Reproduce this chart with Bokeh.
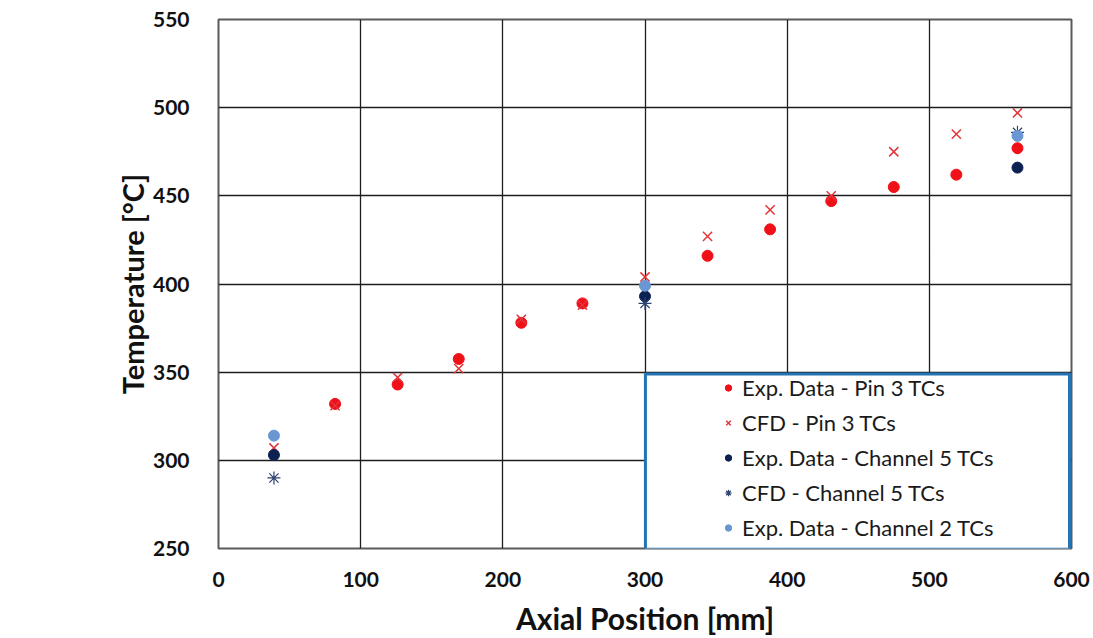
from bokeh.plotting import figure
from bokeh.models import Range1d, FixedTicker, Legend, LegendItem, BoxAnnotation
from bokeh.embed import file_html
from bokeh.resources import INLINE

# ---- data ----
exp_pin3_x = [82, 126, 169, 213, 256, 344, 388, 431, 475, 519, 562]
exp_pin3_y = [332, 343, 357.5, 378, 389, 416, 431, 447, 455, 462, 477]

cfd_pin3_x = [39, 82, 126, 169, 213, 256, 300, 344, 388, 431, 475, 519, 562]
cfd_pin3_y = [307, 331, 347, 352, 380, 388, 404, 427, 442, 450, 475, 485, 497]

exp_ch5_x = [39, 300, 562]
exp_ch5_y = [303, 393, 466]

cfd_ch5_x = [39, 300, 562]
cfd_ch5_y = [290, 389, 486]

exp_ch2_x = [39, 300, 562]
exp_ch2_y = [314, 399, 484]

x_ticks = [0, 100, 200, 300, 400, 500, 600]
y_ticks = [250, 300, 350, 400, 450, 500, 550]

labels = ["Exp. Data - Pin 3 TCs", "CFD - Pin 3 TCs", "Exp. Data - Channel 5 TCs",
          "CFD - Channel 5 TCs", "Exp. Data - Channel 2 TCs"]

# legend frame extent (data units)
legend_box = dict(left=300.3, right=598.6, bottom=249.6, top=349.0)

FONT = "Lato"

p = figure(width=1093, height=638, output_backend="svg", toolbar_location=None,
           x_range=Range1d(0, 600), y_range=Range1d(250, 550),
           min_border_left=218, min_border_right=22, min_border_top=19, min_border_bottom=90)

p.background_fill_color = "white"
p.border_fill_color = "white"
p.outline_line_color = "#5a5a5a"
p.outline_line_width = 2

for ax in (p.xaxis[0], p.yaxis[0]):
    ax.axis_line_color = None
    ax.major_tick_line_color = None
    ax.minor_tick_line_color = None
    ax.major_label_text_font = FONT
    ax.major_label_text_font_style = "bold"
    ax.major_label_text_font_size = "21px"
    ax.major_label_text_color = "#111111"
    ax.axis_label_text_font = FONT
    ax.axis_label_text_font_style = "bold"
    ax.axis_label_text_color = "#111111"

p.xaxis.axis_label_text_font_size = "30px"
p.yaxis.axis_label_text_font_size = "29px"
p.xaxis.ticker = FixedTicker(ticks=x_ticks)
p.yaxis.ticker = FixedTicker(ticks=y_ticks)
p.xaxis.major_label_standoff = 17
p.yaxis.major_label_standoff = 23
p.xaxis.axis_label = "Axial Position [mm]"
p.yaxis.axis_label = "Temperature [°C]"
p.xaxis.axis_label_standoff = 10
p.yaxis.axis_label_standoff = 0

p.xgrid.ticker = FixedTicker(ticks=x_ticks)
p.ygrid.ticker = FixedTicker(ticks=y_ticks)
for g in (p.xgrid[0], p.ygrid[0]):
    g.grid_line_color = "#1e1e1e"
    g.grid_line_width = 1.3

r1 = p.scatter(exp_pin3_x, exp_pin3_y, marker="circle", size=11,
               fill_color="#f01018", line_color="#f01018")
r2 = p.scatter(cfd_pin3_x, cfd_pin3_y, marker="x", size=13,
               line_color="#e2353b", line_width=1.5)
r3 = p.scatter(exp_ch5_x, exp_ch5_y, marker="circle", size=11,
               fill_color="#0c2152", line_color="#0c2152")
r4 = p.scatter(cfd_ch5_x, cfd_ch5_y, marker="asterisk", size=13,
               line_color="#2b4370", line_width=1.2)
r5 = p.scatter(exp_ch2_x, exp_ch2_y, marker="circle", size=11,
               fill_color="#6a97d4", line_color="#6a97d4")

box = BoxAnnotation(fill_color="white", fill_alpha=1.0,
                    line_color="#2473b3", line_alpha=1.0, line_width=3, **legend_box)
p.add_layout(box)

legend = Legend(items=[LegendItem(label=l, renderers=[r]) for l, r in
                       zip(labels, [r1, r2, r3, r4, r5])],
                location=(502, 3), orientation="vertical",
                padding=0, margin=0, spacing=0,
                glyph_width=16, glyph_height=35, label_height=35, label_standoff=6,
                label_text_font=FONT, label_text_font_size="22px",
                label_text_color="#1a1a1a",
                border_line_color=None, background_fill_alpha=0)
p.add_layout(legend)

open("out.html", "w").write(file_html(p, INLINE))
